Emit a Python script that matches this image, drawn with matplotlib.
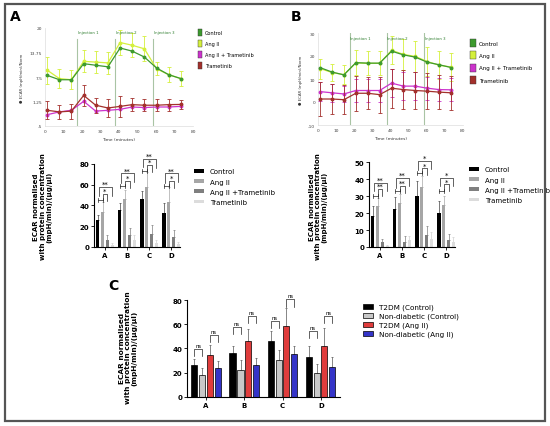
import numpy as np
import matplotlib
matplotlib.use('Agg')
import matplotlib.pyplot as plt
from matplotlib.patches import Patch, Rectangle

# ---- data ----
times = [1.3, 7.8, 14.3, 20.9, 27.4, 34.0, 40.6, 47.1, 53.7, 60.3, 66.8, 73.4]
injections = [17.5, 38.0, 58.5]
inj_labels = ['Injection 1', 'Injection 2', 'Injection 3']

# panel A, time course
a_ctrl = [7.9, 6.8, 6.8, 10.9, 10.5, 10.1, 14.9, 14.1, 12.6, 9.8, 8.1, 7.1]
a_ang = [9.2, 7.1, 6.8, 11.5, 11.3, 11.1, 16.3, 15.6, 14.7, 9.6, 8.1, 7.1]
a_ang_err = [3.4, 2.4, 2.4, 2.8, 2.8, 2.8, 3.1, 3.0, 3.2, 1.7, 2.0, 1.9]
a_angtram = [-2.1, -1.4, -1.0, 1.3, -1.2, -1.0, -0.75, -0.15, -0.3, -0.15, -0.15, 0.0]
a_tram = [-1.0, -1.4, -1.2, 2.8, 0.3, -0.4, 0.0, 0.45, 0.3, 0.3, 0.45, 0.5]
a_tram_err = [2.3, 1.7, 1.9, 2.7, 1.9, 2.2, 2.6, 1.7, 1.5, 1.5, 1.5, 1.2]

# panel B, time course
b_ctrl = [14.9, 13.0, 11.8, 17.1, 16.9, 16.9, 22.1, 20.5, 19.5, 17.3, 16.2, 15.0]
b_ang = [14.5, 12.8, 11.9, 17.0, 16.8, 16.8, 22.5, 20.7, 19.8, 17.6, 16.0, 15.2]
b_ang_err = [4.4, 3.8, 4.1, 5.4, 5.2, 5.2, 6.1, 6.7, 6.8, 6.5, 6.0, 6.0]
b_angtram = [4.5, 4.0, 3.5, 5.0, 5.0, 5.0, 8.2, 6.9, 6.9, 6.0, 5.4, 5.3]
b_angtram_err = [4.0, 4.0, 3.5, 5.0, 5.0, 5.0, 6.0, 6.0, 6.0, 5.0, 5.0, 5.0]
b_tram = [1.3, 1.3, 1.0, 3.8, 3.8, 3.2, 6.0, 5.4, 5.0, 4.7, 4.3, 4.0]
b_tram_err = [7.5, 6.5, 6.3, 7.5, 7.0, 7.8, 8.5, 8.3, 8.0, 7.8, 7.5, 7.3]

groups = ['A', 'B', 'C', 'D']

# panel A, bars
ba_ctrl = [26, 36, 46, 33]
ba_ctrl_err = [5, 6, 8, 9]
ba_ang = [34, 46, 58, 43]
ba_ang_err = [9, 9, 14, 15]
ba_angtram = [7, 12, 13, 10]
ba_angtram_err = [5, 6, 8, 6]
ba_tram = [1.5, 7, 4, 2.5]
ba_tram_err = [2, 5, 3, 2.5]
ba_sig = [[45, 51, 58], [59, 64, 71], [73, 79, 85], [59, 64, 71]]
ba_stars = [['*', '**']] * 4

# panel B, bars
bb_ctrl = [18.2, 22.2, 30.4, 20.0]
bb_ctrl_err = [6.3, 7.2, 8.4, 7.5]
bb_ang = [24.0, 25.9, 35.3, 25.1]
bb_ang_err = [5.0, 5.5, 6.7, 5.3]
bb_angtram = [2.9, 2.9, 6.9, 3.9]
bb_angtram_err = [2.0, 3.6, 5.5, 3.9]
bb_tram = [0.4, 4.0, 5.0, 3.0]
bb_tram_err = [0.5, 2.5, 3.8, 2.9]
bb_sig = [[30, 34.3, 37.8], [33, 36, 41], [43.5, 46.5, 51], [33, 37, 41]]
bb_stars = [['**', '**'], ['**', '**'], ['*', '*'], ['*', '*']]

# panel C
c_t2_ctrl = [26, 35.8, 45.9, 32.8]
c_t2_ctrl_err = [5.4, 6, 8.2, 9]
c_nd_ctrl = [18, 22, 30.3, 19.4]
c_nd_ctrl_err = [6, 8.3, 8.7, 7.4]
c_t2_ang = [34.2, 46.4, 58.2, 42.3]
c_t2_ang_err = [9, 9.6, 15, 14.5]
c_nd_ang = [24, 26, 35.5, 24.9]
c_nd_ang_err = [5.5, 6.2, 6.8, 7.9]
c_ns_ctrl = [39.6, 58, 63, 54.6]
c_ns_ang = [51.4, 67, 80.6, 67]

line_names = ['Control', 'Ang II', 'Ang II + Trametinib', 'Trametinib']
line_cols = ['#3d9a2e', '#d4f03c', '#cc33cc', '#a3302c']
bar_names = ['Control', 'Ang II', 'Ang II +Trametinib', 'Trametinib']
bar_cols = ['#000000', '#a6a6a6', '#7f7f7f', '#dcdcdc']
bar_ecols = ['#444444', '#a6a6a6', '#7f7f7f', '#d0d0d0']
c_names = ['T2DM (Control)', 'Non-diabetic (Control)', 'T2DM (Ang II)', 'Non-diabetic (Ang II)']
c_cols = ['#000000', '#c8c8c8', '#e03c3c', '#3434c8']
c_ecols = ['#555555'] * 4

W, H = 550, 427
fig = plt.figure(figsize=(W / 100, H / 100), dpi=100)


def px_axes(x0, y0, x1, y1):
    return fig.add_axes([x0 / W, 1 - y1 / H, (x1 - x0) / W, (y1 - y0) / H])


def time_course(ax, data, ylim, yticks, ytl, inj_top, lab_y):
    ax.set_xlim(0, 80)
    ax.set_ylim(*ylim)
    for x, lab in zip(injections, inj_labels):
        ax.plot([x, x], [ylim[0], inj_top], color='#a9c4a4', lw=0.8, zorder=1)
        ax.text(x + 0.3, lab_y, lab, fontsize=2.8, color='#2e7d2e', ha='left', va='center')
    for y, err, col, z in data:
        if err is not None:
            ax.errorbar(times, y, yerr=err, fmt='none', ecolor=col, elinewidth=0.6,
                        capsize=1.3, capthick=0.6, zorder=z)
        ax.plot(times, y, color=col, lw=0.9, marker='o', ms=1.8, zorder=z + 0.5)
    ax.set_xticks(range(0, 81, 10))
    ax.set_yticks(yticks)
    ax.set_yticklabels(ytl)
    ax.tick_params(labelsize=3.2, length=0, pad=2, colors='#444444')
    for s in ['top', 'right']:
        ax.spines[s].set_visible(False)
    for s in ['left', 'bottom']:
        ax.spines[s].set_color('#dddddd')
        ax.spines[s].set_linewidth(0.5)
    ax.set_xlabel('Time (minutes)', fontsize=3.2, labelpad=3, color='#333333')
    ax.set_ylabel('\u25cf ECAR (mpH/min)/Norm', fontsize=2.8, labelpad=4, color='#333333')


# ---- A: time course ----
axa = px_axes(45, 29, 193, 127)
time_course(axa, [(a_ang, a_ang_err, line_cols[1], 2), (a_ctrl, None, line_cols[0], 3),
                  (a_angtram, None, line_cols[2], 4), (a_tram, a_tram_err, line_cols[3], 5)],
            (-5, 20), [-5, 1.25, 7.5, 13.75, 20], ['-5', '1.25', '7.5', '13.75', '20'], 17.2, 19.0)
axa.legend(handles=[Patch(fc=c, ec='#333333', lw=0.3) for c in line_cols], labels=line_names,
           loc='upper left', bbox_to_anchor=(195 / W, 1 - 27 / H), bbox_transform=fig.transFigure,
           frameon=False, fontsize=3.6, handlelength=0.9, handleheight=1.9, labelspacing=0.75,
           handletextpad=0.6, borderpad=0)

# ---- B: time course ----
axb = px_axes(318, 34, 463, 126)
time_course(axb, [(b_ang, b_ang_err, line_cols[1], 2), (b_ctrl, None, line_cols[0], 3),
                  (b_angtram, b_angtram_err, line_cols[2], 4), (b_tram, b_tram_err, line_cols[3], 5)],
            (-10, 30), [-10, 0, 10, 20, 30], ['-10', '0', '10', '20', '30'], 30, 28.0)
axb.legend(handles=[Patch(fc=c, ec='#333333', lw=0.3) for c in line_cols], labels=line_names,
           loc='upper left', bbox_to_anchor=(467 / W, 1 - 37 / H), bbox_transform=fig.transFigure,
           frameon=False, fontsize=4.0, handlelength=1.1, handleheight=1.9, labelspacing=0.75,
           handletextpad=0.6, borderpad=0)


def bar_style(ax, ylim, ytop, yticks, xmax):
    ax.set_xlim(-0.5, xmax)
    ax.set_ylim(0, ylim)
    ax.spines['left'].set_bounds(0, ytop)
    for s in ['top', 'right']:
        ax.spines[s].set_visible(False)
    for s in ['left', 'bottom']:
        ax.spines[s].set_linewidth(0.8)
    ax.set_yticks(yticks)
    ax.set_xticks(range(4))
    ax.set_xticklabels(groups)
    ax.tick_params(labelsize=5, length=2, width=0.6, pad=1.5)
    for t in ax.get_xticklabels() + ax.get_yticklabels():
        t.set_fontweight('bold')


def bars(ax, series, errs, cols, ecols, offs, width, edge=None):
    x = np.arange(4)
    for y, e, col, ec, o in zip(series, errs, cols, ecols, offs):
        ax.bar(x + o, y, width, color=col, edgecolor=edge if edge else col,
               linewidth=0.5 if edge else 0, zorder=2)
        ax.errorbar(x + o, y, yerr=[np.zeros(4), e], fmt='none', ecolor=ec,
                    elinewidth=0.5, capsize=1, capthick=0.5, zorder=1)


def sig_brackets(ax, sig, stars, offs, leg, fs):
    kw = dict(color='#222222', lw=0.5)
    for i, (h0, h1, h2) in enumerate(sig):
        x0, x1, x2, x3 = [i + o for o in offs]
        cap = leg * 0.3
        ax.plot([x0, x1], [h0, h0], **kw)
        ax.plot([x0, x0], [h0 - cap, h0 + cap], **kw)
        ax.plot([x1, x1], [h0 - cap, h0 + cap], **kw)
        ax.plot([x1, x1, x2, x2], [h0, h1, h1, h1 - leg], **kw)
        ax.text((x1 + x2) / 2, h1, stars[i][0], ha='center', va='bottom', fontsize=fs)
        ax.plot([x0 + 0.06, x0 + 0.06, x3, x3], [h1 - leg * 0.3, h2, h2, h2 - leg * 1.2], **kw)
        ax.text((x0 + x3) / 2, h2, stars[i][1], ha='center', va='bottom', fontsize=fs)


offs4 = [-0.33, -0.11, 0.11, 0.33]

# ---- A: bars ----
axba = px_axes(94, 154.6, 180, 248)
bar_style(axba, 90, 80, [0, 20, 40, 60, 80], 3.4)
bars(axba, [ba_ctrl, ba_ang, ba_angtram, ba_tram],
     [ba_ctrl_err, ba_ang_err, ba_angtram_err, ba_tram_err], bar_cols, bar_ecols, offs4, 0.15)
sig_brackets(axba, ba_sig, ba_stars, offs4, 7, 5)
axba.legend(handles=[Patch(fc=c) for c in bar_cols], labels=bar_names,
            loc='upper left', bbox_to_anchor=(191 / W, 1 - 166 / H), bbox_transform=fig.transFigure,
            frameon=False, fontsize=5, handlelength=1.4, handleheight=0.5, labelspacing=0.6,
            handletextpad=0.8, borderpad=0)

# ---- B: bars ----
axbb = px_axes(369, 155, 455, 248)
bar_style(axbb, 55, 50, [0, 10, 20, 30, 40, 50], 3.4)
bars(axbb, [bb_ctrl, bb_ang, bb_angtram, bb_tram],
     [bb_ctrl_err, bb_ang_err, bb_angtram_err, bb_tram_err], bar_cols, bar_ecols, offs4, 0.15)
sig_brackets(axbb, bb_sig, bb_stars, offs4, 4, 5)
axbb.legend(handles=[Patch(fc=c) for c in bar_cols], labels=bar_names,
            loc='upper left', bbox_to_anchor=(466 / W, 1 - 164 / H), bbox_transform=fig.transFigure,
            frameon=False, fontsize=5, handlelength=1.4, handleheight=0.5, labelspacing=0.6,
            handletextpad=0.8, borderpad=0)

ylab = 'ECAR normalised\nwith protein concentration\n(mpH/min)/(\u00b5g/\u00b5l)'
fig.text(43 / W, 1 - 207 / H, ylab, rotation=90, ha='center', va='center',
         fontsize=5, fontweight='bold', linespacing=1.1)
fig.text(318 / W, 1 - 207 / H, ylab, rotation=90, ha='center', va='center',
         fontsize=5, fontweight='bold', linespacing=1.1)

# ---- C ----
axc = px_axes(187, 295, 340, 397.7)
bar_style(axc, 85, 80, [0, 20, 40, 60, 80], 3.5)
offs_c = [-0.31, -0.1, 0.09, 0.3]
bars(axc, [c_t2_ctrl, c_nd_ctrl, c_t2_ang, c_nd_ang],
     [c_t2_ctrl_err, c_nd_ctrl_err, c_t2_ang_err, c_nd_ang_err], c_cols, c_ecols, offs_c, 0.16, edge='k')
for i in range(4):
    for (a, b, h) in [(0, 1, c_ns_ctrl[i]), (2, 3, c_ns_ang[i])]:
        xa, xb = i + offs_c[a], i + offs_c[b]
        axc.plot([xa, xa, xb, xb], [h - 6, h, h, h - 6], color='#222222', lw=0.5)
        axc.text((xa + xb) / 2, h + 0.8, 'ns', ha='center', va='bottom', fontsize=3.8)
axc.legend(handles=[Patch(fc=c, ec='k', lw=0.5) for c in c_cols], labels=c_names,
           loc='upper left', bbox_to_anchor=(359 / W, 1 - 301 / H), bbox_transform=fig.transFigure,
           frameon=False, fontsize=5.2, handlelength=1.4, handleheight=0.7, labelspacing=0.35,
           handletextpad=0.9, borderpad=0)
fig.text(128 / W, 1 - 348 / H, ylab, rotation=90, ha='center', va='center',
         fontsize=5.3, fontweight='bold', linespacing=1.1)

# panel letters
fig.text(15 / W, 1 - 17 / H, 'A', fontsize=10, fontweight='bold', ha='center', va='center')
fig.text(296 / W, 1 - 17 / H, 'B', fontsize=10, fontweight='bold', ha='center', va='center')
fig.text(113 / W, 1 - 286 / H, 'C', fontsize=10, fontweight='bold', ha='center', va='center')

# outer frame
fig.add_artist(Rectangle((5 / W, 1 - 422 / H), 540 / W, 417 / H, fill=False,
                         ec='#555555', lw=1.6, transform=fig.transFigure))

fig.savefig('out.png', dpi=100)
